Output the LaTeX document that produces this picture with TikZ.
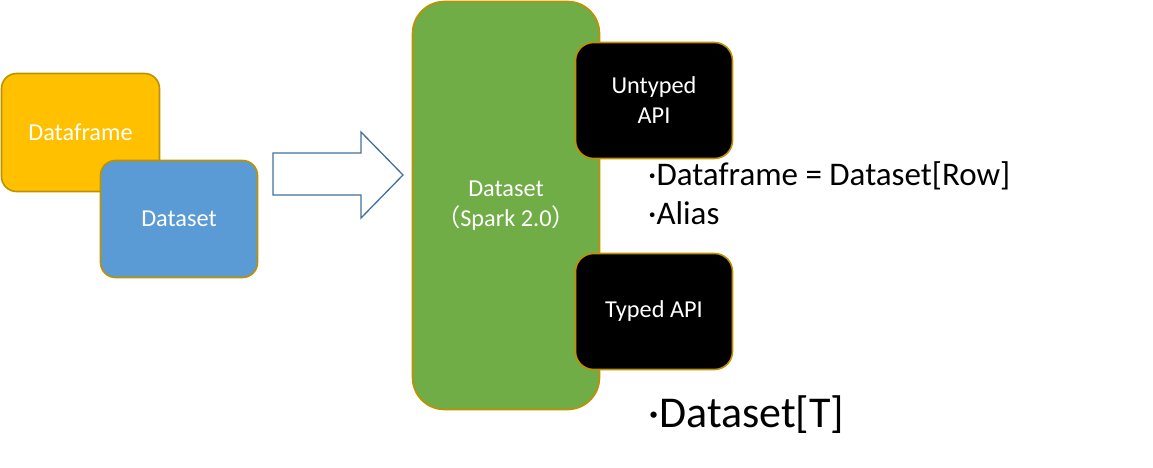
\documentclass[tikz,border=0pt]{standalone}
\usepackage{fontspec}
\setmainfont{Carlito}
\newfontfamily\cjk{Noto Sans CJK SC}
\definecolor{gold}{HTML}{BF9000}
\definecolor{dfyellow}{HTML}{FFC000}
\definecolor{dsblue}{HTML}{5B9BD5}
\definecolor{sgreen}{HTML}{70AD47}
\definecolor{arrblue}{HTML}{41719C}
\begin{document}
\begin{tikzpicture}[x=1pt,y=-1pt,
  box/.style={draw=gold,line width=1.6pt,rectangle,inner sep=0pt,text=white,
    align=center,font=\fontsize{24.3}{30}\selectfont},
  bullet/.style={anchor=base west,inner sep=0pt,text=black}]
\useasboundingbox (0,0) rectangle (1153,468);
% left stack
\node[box,fill=dfyellow,minimum width=158pt,minimum height=118pt,rounded corners=15pt] (df) at (80.5,132.5) {Dataframe};
\node[box,fill=dsblue,minimum width=157pt,minimum height=117pt,rounded corners=15pt] (ds) at (179,219) {Dataset};
% block arrow
\draw[arrblue,line width=1.3pt,fill=white,line join=miter]
  (273,153) -- (361,153) -- (361,132) -- (403,175) -- (361,218) -- (361,195) -- (273,195) -- cycle;
% big green
\node[box,fill=sgreen,minimum width=187pt,minimum height=408pt,rounded corners=32pt] (spark) at (506,205.5)
  {Dataset\\{\cjk （}Spark 2.0{\cjk ）}};
% black boxes
\node[box,fill=black,minimum width=157pt,minimum height=116pt,rounded corners=18pt] (untyped) at (654,100.5) {Untyped\\API};
\node[box,fill=black,minimum width=157pt,minimum height=116pt,rounded corners=18pt] (typed) at (654,311.5) {Typed API};
% bullet texts
\node[bullet,font=\fontsize{33}{40}\selectfont] (b1) at (648,185) {·Dataframe = Dataset[Row]};
\node[bullet,font=\fontsize{33}{40}\selectfont] (b2) at (648,224) {·Alias};
\node[bullet,font=\fontsize{44}{50}\selectfont] (b3) at (648,427) {·Dataset[T]};
\end{tikzpicture}
\end{document}
